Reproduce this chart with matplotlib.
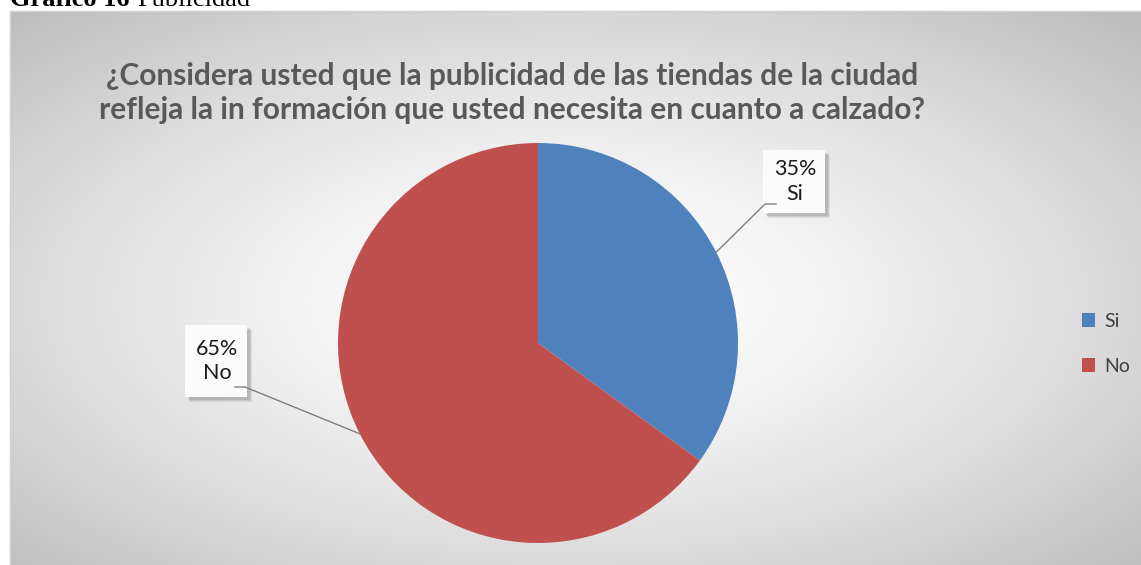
import numpy as np
import matplotlib
matplotlib.use("Agg")
import matplotlib.pyplot as plt
from matplotlib.patches import Rectangle

categories = ['Si', 'No']
values = [35, 65]
colors = ['#4F81BD', '#C0504D']
title = ('¿Considera usted que la publicidad de las tiendas de la ciudad\n'
         'refleja la in formación que usted necesita en cuanto a calzado?')

W, H = 1141, 565
fig = plt.figure(figsize=(W / 100, H / 100), dpi=100)
fig.patch.set_facecolor('white')

# caption above the chart, cut off by the page edge (as in the source)
cap = fig.text(10 / W, 1 - 6 / H, 'Gráfico 16', family='Liberation Serif', weight='bold',
               fontsize=19, va='baseline', ha='left')
fig.canvas.draw()
ext = cap.get_window_extent()
fig.text((ext.x1 + 8) / W, 1 - 6 / H, 'Publicidad', family='Liberation Serif',
         fontsize=19, va='baseline', ha='left')

# chart area with radial gradient
x0, y0 = 10, 11
bg = fig.add_axes([x0 / W, 0, (W - x0) / W, (H - y0) / H])
gw, gh = W - x0, H - y0
yy, xx = np.mgrid[0:gh, 0:gw]
cx, cy = gw * 0.49, gh * 0.52
d = np.sqrt(((xx - cx) / (gw / 2)) ** 2 + ((yy - cy) / (gh / 2)) ** 2) / np.sqrt(2)
v = (255 - 66 * np.clip(d, 0, 1) ** 1.5) / 255
bg.imshow(np.dstack([v, v, v]), aspect='auto', interpolation='bilinear')
bg.set_axis_off()
fig.add_artist(plt.Line2D([x0 / W, 1], [1 - y0 / H, 1 - y0 / H], color='#d0d0d0', lw=1))
fig.add_artist(plt.Line2D([x0 / W, x0 / W], [0, 1 - y0 / H], color='#d0d0d0', lw=1))

fig.text(512 / W, 1 - 93 / H, title, ha='center', va='center', fontsize=21.5,
         weight='bold', color='#595959', family='Lato', linespacing=1.25)

# pie
cxp, cyp, r = 538, 343, 200
ax = fig.add_axes([(cxp - r) / W, (H - cyp - r) / H, 2 * r / W, 2 * r / H])
wedges, _ = ax.pie(values, colors=colors, startangle=90, counterclock=False, radius=1,
                   wedgeprops=dict(linewidth=0))
ax.set_xlim(-1, 1)
ax.set_ylim(-1, 1)
ax.set_aspect('auto')

def px(x, y):
    return ((x - cxp) / r, (cyp - y) / r)

# label boxes: (left, top, right, bottom) in pixels, and leader corner
boxes = [(763, 150, 825, 213), (185, 325, 247, 397)]
leader = [((776, 204), (765, 204)), ((235, 387), (245, 387))]
for w, val, cat, (l, t, rr, b), (p1, p2) in zip(wedges, values, categories, boxes, leader):
    # shadow
    for k, a in [(5, 0.10), (4, 0.12), (3, 0.15)]:
        sx, sy = px(l + k, b + k)
        ax.add_patch(Rectangle((sx, sy), (rr - l) / r, (b - t) / r, facecolor='#505050',
                               alpha=a, lw=0, clip_on=False, zorder=3))
    bx, by = px(l, b)
    ax.add_patch(Rectangle((bx, by), (rr - l) / r, (b - t) / r, facecolor='#fbfbfb',
                           lw=0, clip_on=False, zorder=4))
    tx, ty = px((l + rr) / 2 + 1, (t + b) / 2)
    ax.text(tx, ty, f'{val}%\n{cat}', ha='center', va='center', fontsize=15.5,
            family='Lato', color='#1a1a1a', linespacing=1.3, zorder=5)
    ang = np.deg2rad((w.theta1 + w.theta2) / 2)
    ex, ey = np.cos(ang), np.sin(ang)
    a1 = px(*p1)
    a2 = px(*p2)
    ax.plot([a1[0], a2[0], ex], [a1[1], a2[1], ey], color='#7f7f7f', lw=1,
            clip_on=False, zorder=6)

leg = fig.legend(wedges, categories, loc='center left', bbox_to_anchor=(1064 / W, 1 - 344 / H),
                 frameon=False, handlelength=0.7, handleheight=0.7,
                 handletextpad=0.45, labelspacing=1.45, prop=dict(family='Lato', size=14))
for t in leg.get_texts():
    t.set_color('#404040')

fig.savefig('out.png', dpi=100)
